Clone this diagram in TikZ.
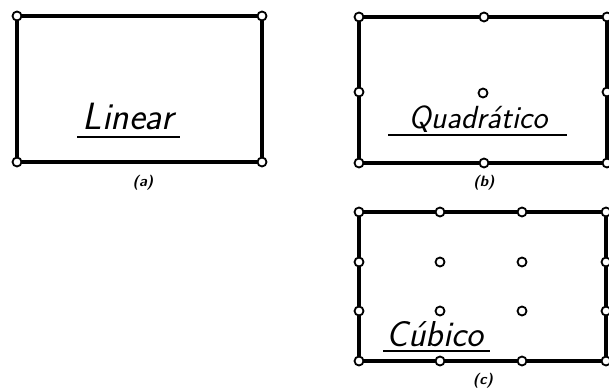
\documentclass[tikz,border=0pt]{standalone}
\begin{document}
\begin{tikzpicture}[x=1pt,y=-1pt,
  vtx/.style={circle,draw=black,fill=white,line width=1.8pt,inner sep=0pt,minimum size=9pt},
  boxedge/.style={line width=3.4pt,line cap=round},
  hand/.style={font=\fontsize{38}{38}\selectfont\sffamily\itshape,inner sep=0pt,anchor=base},
  capt/.style={font=\fontsize{15}{15}\selectfont\sffamily\bfseries\itshape,inner sep=0pt},
  uline/.style={line width=2.4pt}]
\useasboundingbox (0,0) rectangle (609,390);
% (a) linear
\node[vtx] (a1) at (17,16) {};
\node[vtx] (a2) at (262,16) {};
\node[vtx] (a3) at (262,162) {};
\node[vtx] (a4) at (17,162) {};
\draw[boxedge] (a1) -- (a2) (a2) -- (a3) (a3) -- (a4) (a4) -- (a1);
\node[hand] (ta) at (128,130) {Linear};
\coordinate (ua1) at (77,137);
\coordinate (ua2) at (180,137);
\draw[uline] (ua1) -- (ua2);
\node[capt] (la) at (143,183) {(a)};
% (b) quadratic
\node[vtx] (b1) at (359,17) {};
\node[vtx] (b2) at (484,17) {};
\node[vtx] (b3) at (607,17) {};
\node[vtx] (b4) at (607,92) {};
\node[vtx] (b5) at (607,163) {};
\node[vtx] (b6) at (484,163) {};
\node[vtx] (b7) at (359,163) {};
\node[vtx] (b8) at (359,92) {};
\node[vtx] (b9) at (483,93) {};
\draw[boxedge] (b1) -- (b2) (b2) -- (b3) (b3) -- (b4) (b4) -- (b5) (b5) -- (b6) (b6) -- (b7) (b7) -- (b8) (b8) -- (b1);
\node[hand,font=\fontsize{32}{32}\selectfont\sffamily\itshape] (tb) at (478,129) {Quadrático};
\coordinate (ub1) at (388,135);
\coordinate (ub2) at (567,135);
\draw[uline] (ub1) -- (ub2);
\node[capt] (lb) at (484,183) {(b)};
% (c) cubic
\node[vtx] (c1) at (359,212) {};
\node[vtx] (c2) at (440,212) {};
\node[vtx] (c3) at (522,212) {};
\node[vtx] (c4) at (606,212) {};
\node[vtx] (c5) at (606,262) {};
\node[vtx] (c6) at (606,311) {};
\node[vtx] (c7) at (606,361) {};
\node[vtx] (c8) at (522,361) {};
\node[vtx] (c9) at (440,361) {};
\node[vtx] (c10) at (359,361) {};
\node[vtx] (c11) at (359,311) {};
\node[vtx] (c12) at (359,262) {};
\node[vtx] (c13) at (440,262) {};
\node[vtx] (c14) at (522,262) {};
\node[vtx] (c15) at (440,311) {};
\node[vtx] (c16) at (522,311) {};
\draw[boxedge] (c1) -- (c2) (c2) -- (c3) (c3) -- (c4) (c4) -- (c5) (c5) -- (c6) (c6) -- (c7) (c7) -- (c8) (c8) -- (c9) (c9) -- (c10) (c10) -- (c11) (c11) -- (c12) (c12) -- (c1);
\node[hand,font=\fontsize{36}{36}\selectfont\sffamily\itshape] (tc) at (435,346) {Cúbico};
\coordinate (uc1) at (383,351);
\coordinate (uc2) at (490,351);
\draw[uline] (uc1) -- (uc2);
\node[capt] (lc) at (483,381) {(c)};
\end{tikzpicture}
\end{document}
